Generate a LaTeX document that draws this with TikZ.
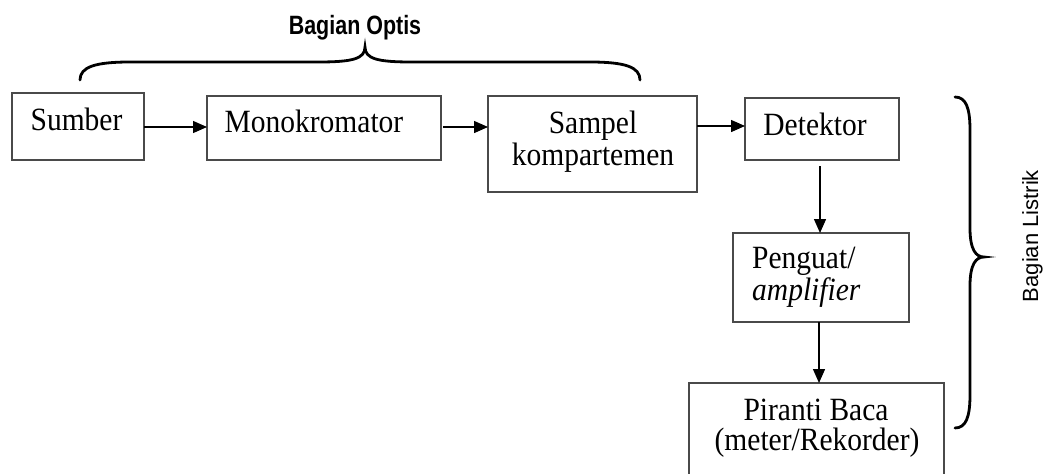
\documentclass[tikz,border=0pt]{standalone}
\usepackage{fontspec}
\setmainfont{Liberation Serif}
\newfontfamily\lsans{Liberation Sans}
\usepackage{graphicx}
\usetikzlibrary{arrows.meta}
\definecolor{boxgray}{HTML}{4A4A4A}
\newcommand{\tallt}[1]{\scalebox{1}[1.1]{#1}}
\begin{document}
\begin{tikzpicture}[x=1pt,y=-1pt,
  box/.style={draw=boxgray, line width=1.4pt, inner sep=0pt, outer sep=0pt},
  lbl/.style={font=\fontsize{29.5}{32}\selectfont, inner sep=0pt, anchor=base},
  arr/.style={line width=1.4pt, -{Triangle[length=14pt,width=12pt]}},
  brace/.style={line width=2.8pt, line cap=round}
]
\useasboundingbox (0,0) rectangle (1053,474);
\clip (0,0) rectangle (1053,474);
% boxes
\node[box, minimum width=132pt, minimum height=67pt] (sumber) at (78,126.5) {};
\node[box, minimum width=234pt, minimum height=64pt] (mono) at (324,128) {};
\node[box, minimum width=209pt, minimum height=96pt] (sampel) at (592.5,144) {};
\node[box, minimum width=154pt, minimum height=62pt] (det) at (822,129) {};
\node[box, minimum width=176pt, minimum height=89pt] (peng) at (821,277.5) {};
\node[box, minimum width=255pt, minimum height=100pt] (pir) at (816.5,433) {};
% texts
\node[lbl] (tsumber) at (76.5,130) {\tallt{Sumber}};
\node[lbl] (tmono) at (314,132) {\tallt{Monokromator}};
\node[lbl] (tsampel1) at (593,133) {\tallt{Sampel}};
\node[lbl] (tsampel2) at (593,165) {\tallt{kompartemen}};
\node[lbl] (tdet) at (815,135) {\tallt{Detektor}};
\node[lbl, anchor=base west] (tpeng1) at (752,268) {\tallt{Penguat/}};
\node[lbl, anchor=base west] (tpeng2) at (752,300) {\tallt{\itshape amplifier}};
\node[lbl] (tpir1) at (816,420) {\tallt{Piranti Baca}};
\node[lbl] (tpir2) at (817,450) {\tallt{(meter/Rekorder)}};
% connectors
\coordinate (c1) at (0,127);
\coordinate (c2) at (0,126);
\draw[arr] (sumber.east |- c1) -- (mono.west |- c1);
\draw[arr] ([xshift=2pt]mono.east |- c1) -- (sampel.west |- c1);
\draw[arr] (sampel.east |- c2) -- (det.west |- c2);
\draw[arr] ([yshift=-6pt]det.south -| 820,0) -- (peng.north -| 820,0);
\draw[arr] (peng.south -| 819,0) -- (pir.north -| 819,0);
% top brace
\draw[brace] (80,80) .. controls (80,67) and (95,62) .. (130,62) -- (318,62)
  .. controls (352,62) and (365,59) .. (365,47)
  .. controls (365,59) and (378,62) .. (412,62) -- (590,62)
  .. controls (625,62) and (640,67) .. (640,80);
\node[inner sep=0pt, anchor=base] (optis) at (355,34)
  {\scalebox{0.81}[1]{\lsans\bfseries\fontsize{26.5}{30}\selectfont Bagian Optis}};
% right brace
\draw[brace] (955,97) .. controls (966,97) and (970,108) .. (970,130) -- (970,228)
  .. controls (970,250) and (976,257) .. (984,257)
  .. controls (976,257) and (970,264) .. (970,286) -- (970,395)
  .. controls (970,417) and (966,428) .. (955,428);
\node[inner sep=0pt, rotate=90, anchor=base] (listrik) at (1038,236)
  {\lsans\fontsize{22}{26}\selectfont Bagian Listrik};
\end{tikzpicture}
\end{document}
